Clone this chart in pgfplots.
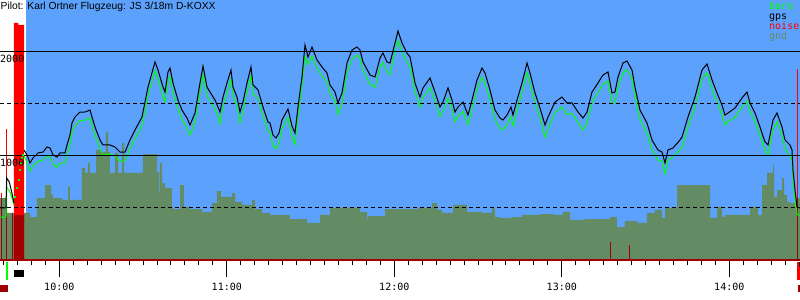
\documentclass[border=0pt]{standalone}
\usepackage{fontspec}
\setmainfont{Liberation Sans}
\newfontfamily\mono{DejaVu Sans Mono}
\usepackage{pgfplots}
\pgfplotsset{compat=1.18}
\definecolor{bluebg}{RGB}{92,161,252}
\definecolor{gndc}{RGB}{100,140,100}
\definecolor{dred}{RGB}{160,0,0}
\definecolor{lgreen}{RGB}{0,255,0}
\begin{document}
\begin{tikzpicture}
\useasboundingbox (0,-40bp) rectangle (800bp,260bp);
\begin{axis}[
 at={(0,0)}, anchor=south west,
 width=800bp, height=260bp, scale only axis,
 xmin=38.76, xmax=325.33, ymin=0, ymax=2500,
 clip=false, axis on top,
 axis x line*=bottom, axis y line*=left,
 x axis line style={draw=dred, line width=1.5bp},
 y axis line style={draw=none},
 xtick={60,120,180,240,300},
 xticklabels={10:00,11:00,12:00,13:00,14:00},
 minor xtick={40,45,...,320},
 tick align=outside,
 major tick length=17bp, minor tick length=5bp,
 xtick style={black, line width=1bp},
 xticklabel style={font=\mono\fontsize{10bp}{12bp}\selectfont, anchor=north, inner sep=0pt, yshift=-6bp},
 ytick={1000,2000}, yticklabels={}, ytick style={draw=none},
 ymajorgrids, major grid style={black, line width=1bp},
 extra y ticks={500,1500}, extra y tick labels={},
 extra y tick style={grid=major, major grid style={black, line width=1bp, dash pattern=on 4bp off 3bp}, major tick length=0pt},
]
% background of flight area
\addplot[draw=none, fill=bluebg, forget plot] coordinates {(48.07,2500) (325.33,2500)} \closedcycle;
% ground
\addplot[const plot, draw=none, fill=gndc, forget plot] coordinates {
(38.76,596) (41.27,452) (43.77,433) (47.36,452) (49.51,413) (52.01,596) (54.88,721) (57.03,625) (57.75,596) (60.97,577) (63.12,702) (63.83,577) (68.13,885) (69.21,837) (70.28,933) (71.00,837) (73.15,1058) (74.58,1038) (76.73,1231) (77.45,1038) (78.16,837) (79.95,1029) (81.03,837) (82.46,1125) (83.18,837) (89.98,1019) (95.0,846) (95.72,644) (96.07,933) (96.79,740) (97.87,692) (100.37,510) (100.73,490) (103.24,721) (104.67,510) (106.82,490) (111.12,462) (114.70,548) (116.49,663) (117.92,606) (121.87,644) (122.94,558) (125.45,529) (129.03,577) (130.10,490) (132.61,452) (135.48,433) (142.64,394) (148.73,356) (153.39,433) (156.97,500) (167.72,462) (170.23,385) (170.58,423) (176.67,490) (188.49,500) (193.50,548) (195.30,481) (197.09,452) (201.03,529) (206.04,462) (211.42,452) (214.99,500) (216.07,413) (217.87,404) (222.16,413) (225.75,433) (232.19,442) (236.85,433) (240.43,462) (242.94,385) (248.31,394) (257.27,413) (259.77,317) (262.63,375) (266.94,356) (270.52,452) (273.38,481) (275.89,404) (276.97,500) (281.27,721) (293.09,404) (295.60,510) (297.39,413) (298.46,433) (307.42,510) (310.28,433) (311.72,721) (313.51,837) (315.66,913) (316.02,606) (317.09,673) (318.88,788) (319.60,625) (320.67,558) (321.75,548) (324.25,596) (325.33,596)
} \closedcycle;
% noise
\addplot[const plot, draw=none, fill=red, forget plot] coordinates {(43.77,2279) (45.32,2260) (47.36,2260)} \closedcycle;
\addplot[const plot, draw=none, fill=dred, forget plot] coordinates {(43.77,433) (47.36,433)} \closedcycle;
\addplot[ycomb, draw=red, line width=1bp, mark=none, forget plot] coordinates {(39.19,644) (41.09,1255) (324.50,1837)};
\addplot[ycomb, draw=dred, line width=1bp, mark=none, forget plot] coordinates {(39.19,596) (41.09,596) (43.24,452) (257.27,173) (264.43,144) (324.50,596)};
% baro
\addplot[draw=lgreen, line width=1bp, mark=none, forget plot] coordinates {(38.76,413) (40.9,413) (41.16,702) (42.3,654) (43.3,577) (43.77,529)};
\addplot[only marks, mark=square*, mark size=0.6bp, draw=lgreen, fill=lgreen, forget plot] coordinates {(44.13,606) (44.74,692) (45.32,769) (45.82,865) (46.18,933) (46.53,981) (46.89,1010)};
\addplot[draw=lgreen, line width=1bp, mark=none, forget plot] coordinates {
(47.36,1000) (48.43,940) (49.51,855) (50.58,905) (52.37,950) (54.16,960) (55.60,1000) (56.67,990) (57.75,920) (59.18,890) (60.25,930) (62.04,935) (62.76,1010) (63.83,1110) (64.55,1230) (65.63,1290) (67.42,1340) (69.21,1345) (71.00,1365) (71.72,1300) (72.79,1195) (74.58,1070) (75.66,1010) (78.16,1020) (79.95,1000) (81.75,950) (83.54,955) (85.33,1070) (87.12,1165) (89.63,1290) (91.78,1580) (94.28,1820) (95.36,1740) (97.15,1570) (97.87,1520) (98.94,1720) (99.66,1760) (100.73,1610) (102.52,1450) (103.95,1350) (105.75,1270) (106.82,1200) (108.61,1320) (110.40,1610) (111.48,1780) (112.91,1575) (113.98,1530) (115.78,1450) (116.85,1385) (117.57,1310) (118.64,1470) (120.07,1610) (121.51,1740) (122.22,1580) (123.66,1480) (124.73,1320) (125.80,1430) (127.24,1615) (128.67,1770) (129.39,1600) (131.18,1550) (132.97,1385) (134.76,1240) (135.48,1230) (136.55,1100) (137.63,1070) (138.70,1130) (139.77,1260) (141.92,1370) (143.36,1190) (144.43,1110) (145.51,1380) (146.94,1680) (148.01,1960) (149.09,1880) (150.52,1960) (152.31,1840) (154.10,1770) (155.90,1710) (156.97,1600) (158.76,1530) (159.83,1400) (161.27,1500) (163.06,1800) (164.85,1930) (166.64,1970) (167.72,1940) (168.79,1820) (171.30,1690) (173.09,1660) (174.88,1850) (175.95,1900) (177.39,1810) (178.46,1780) (179.89,1960) (181.33,2110) (182.76,2000) (184.55,1900) (185.63,1860) (186.34,1770) (187.42,1620) (189.21,1470) (190.28,1560) (192.79,1660) (194.58,1530) (196.37,1380) (197.45,1430) (199.24,1560) (200.67,1450) (201.75,1330) (202.82,1380) (204.61,1430) (206.40,1300) (207.84,1450) (209.63,1640) (211.42,1760) (212.49,1700) (214.28,1540) (216.07,1350) (217.87,1270) (218.94,1250) (220.37,1300) (221.81,1380) (222.52,1290) (223.96,1440) (225.75,1610) (227.54,1800) (228.61,1700) (230.40,1510) (232.19,1370) (233.99,1180) (235.06,1260) (237.57,1420) (240.07,1470) (241.87,1400) (243.66,1410) (245.81,1320) (247.60,1250) (249.03,1320) (250.82,1510) (251.54,1550) (252.97,1610) (254.76,1690) (256.55,1720) (257.98,1500) (259.06,1520) (260.13,1660) (261.92,1800) (263.36,1830) (265.15,1740) (266.22,1570) (268.01,1350) (270.52,1220) (272.31,1060) (274.46,960) (275.89,950) (276.97,830) (278.04,960) (279.84,990) (282.34,1060) (283.06,1080) (285.21,1280) (287.72,1470) (290.22,1740) (292.02,1800) (293.81,1640) (295.60,1520) (297.39,1400) (298.46,1300) (299.54,1330) (302.04,1370) (304.55,1470) (306.34,1530) (307.42,1430) (309.21,1330) (311.00,1200) (312.79,1060) (313.87,1010) (315.66,1250) (317.09,1330) (318.88,1200) (319.96,1070) (321.75,1000) (322.46,960) (322.82,780) (323.54,560) (324.25,440) (325.33,423)
};
% gps
\addplot[draw=black, line width=1bp, mark=none, forget plot] coordinates {(38.76,500) (40.9,500) (41.16,788) (42.09,750) (42.95,654) (43.77,548)};
\addplot[draw=black, line width=1bp, mark=none, forget plot] coordinates {
(47.36,1058) (48.43,1010) (49.51,933) (50.58,981) (52.37,1029) (54.16,1038) (55.60,1087) (56.67,1077) (57.75,1010) (59.18,990) (60.25,1029) (62.04,1029) (62.76,1106) (63.83,1202) (64.55,1317) (65.63,1375) (67.42,1423) (69.21,1423) (71.00,1442) (71.72,1375) (72.79,1279) (74.58,1154) (75.66,1106) (78.16,1106) (79.95,1087) (81.75,1038) (83.54,1038) (85.33,1154) (87.12,1250) (89.63,1375) (91.78,1663) (94.28,1904) (95.36,1827) (97.15,1663) (97.87,1615) (98.94,1808) (99.66,1846) (100.73,1702) (102.52,1538) (103.95,1442) (105.75,1365) (106.82,1298) (108.61,1413) (110.40,1702) (111.48,1865) (112.91,1663) (113.98,1615) (115.78,1538) (116.85,1471) (117.57,1423) (118.64,1567) (120.07,1702) (121.51,1827) (122.22,1663) (123.66,1567) (124.73,1423) (125.80,1519) (127.24,1702) (128.67,1856) (129.39,1683) (131.18,1635) (132.97,1471) (134.76,1327) (135.48,1317) (136.55,1202) (137.63,1173) (138.70,1221) (139.77,1346) (141.92,1452) (143.36,1288) (144.43,1221) (145.51,1471) (146.94,1760) (148.01,2067) (149.09,1952) (150.52,2048) (152.31,1923) (154.10,1856) (155.90,1798) (156.97,1683) (158.76,1615) (159.83,1510) (161.27,1606) (163.06,1894) (164.85,2019) (166.64,2048) (167.72,2019) (168.79,1904) (171.30,1779) (173.09,1760) (174.88,1942) (175.95,1990) (177.39,1904) (178.46,1894) (179.89,2048) (181.33,2202) (182.76,2087) (184.55,1990) (185.63,1952) (186.34,1856) (187.42,1702) (189.21,1567) (190.28,1654) (192.79,1750) (194.58,1615) (196.37,1471) (197.45,1519) (199.24,1654) (200.67,1538) (201.75,1423) (202.82,1471) (204.61,1519) (206.40,1394) (207.84,1538) (209.63,1731) (211.42,1846) (212.49,1798) (214.28,1635) (216.07,1442) (217.87,1365) (218.94,1346) (220.37,1394) (221.81,1471) (222.52,1394) (223.96,1538) (225.75,1702) (227.54,1894) (228.61,1798) (230.40,1606) (232.19,1461) (233.99,1298) (235.06,1375) (237.57,1519) (240.07,1567) (241.87,1510) (243.66,1510) (245.81,1423) (247.60,1365) (249.03,1423) (250.82,1615) (251.54,1644) (252.97,1702) (254.76,1779) (256.55,1808) (257.98,1606) (259.06,1615) (260.13,1760) (261.92,1894) (263.36,1913) (265.15,1827) (266.22,1663) (268.01,1442) (270.52,1317) (272.31,1154) (274.46,1058) (275.89,1038) (276.97,933) (278.04,1058) (279.84,1077) (282.34,1154) (283.06,1183) (285.21,1375) (287.72,1567) (290.22,1827) (292.02,1885) (293.81,1731) (295.60,1606) (297.39,1490) (298.46,1394) (299.54,1413) (302.04,1461) (304.55,1558) (306.34,1615) (307.42,1510) (309.21,1413) (311.00,1279) (312.79,1135) (313.87,1106) (315.66,1346) (317.09,1413) (318.88,1279) (319.96,1154) (321.75,1106) (322.46,1058) (322.82,865) (323.54,673) (324.25,510) (325.33,500)
};
% markers below the time axis
\addplot[draw=none, fill=lgreen, forget plot] coordinates {(40.91,-19) (41.63,-19) (41.63,-192) (40.91,-192)} -- cycle;
\addplot[draw=none, fill=black, forget plot] coordinates {(43.77,-96) (47.36,-96) (47.36,-163) (43.77,-163)} -- cycle;
\addplot[draw=none, fill=dred, forget plot] coordinates {(38.76,-240) (41.63,-240) (41.63,-308) (38.76,-308)} -- cycle;
\addplot[draw=none, fill=red, forget plot] coordinates {(324.40,-19) (325.33,-19) (325.33,-192) (324.40,-192)} -- cycle;
\addplot[draw=none, fill=black, forget plot] coordinates {(324.85,-19) (325.33,-19) (325.33,-67) (324.85,-67)} -- cycle;
\addplot[draw=none, fill=dred, forget plot] coordinates {(324.60,-240) (325.33,-240) (325.33,-308) (324.60,-308)} -- cycle;
\end{axis}
% texts
\node[anchor=base west, inner sep=0pt, font=\fontsize{10.3bp}{12bp}\selectfont] at (0.5bp,250.5bp) {Pilot: Karl Ortner Flugzeug: JS 3/18m D-KOXX};
\begin{scope}[every node/.style={anchor=base west, inner sep=0pt, font=\mono\fontsize{10bp}{12bp}\selectfont}]
\node at (0bp,197bp) {2000};
\node at (0bp,93bp) {1000};
\node[text=lgreen] at (769bp,250bp) {baro};
\node[text=black] at (769bp,240bp) {gps};
\node[text=red] at (769bp,230bp) {noise};
\node[text=gndc] at (769bp,220bp) {gnd};
\end{scope}
\end{tikzpicture}
\end{document}
